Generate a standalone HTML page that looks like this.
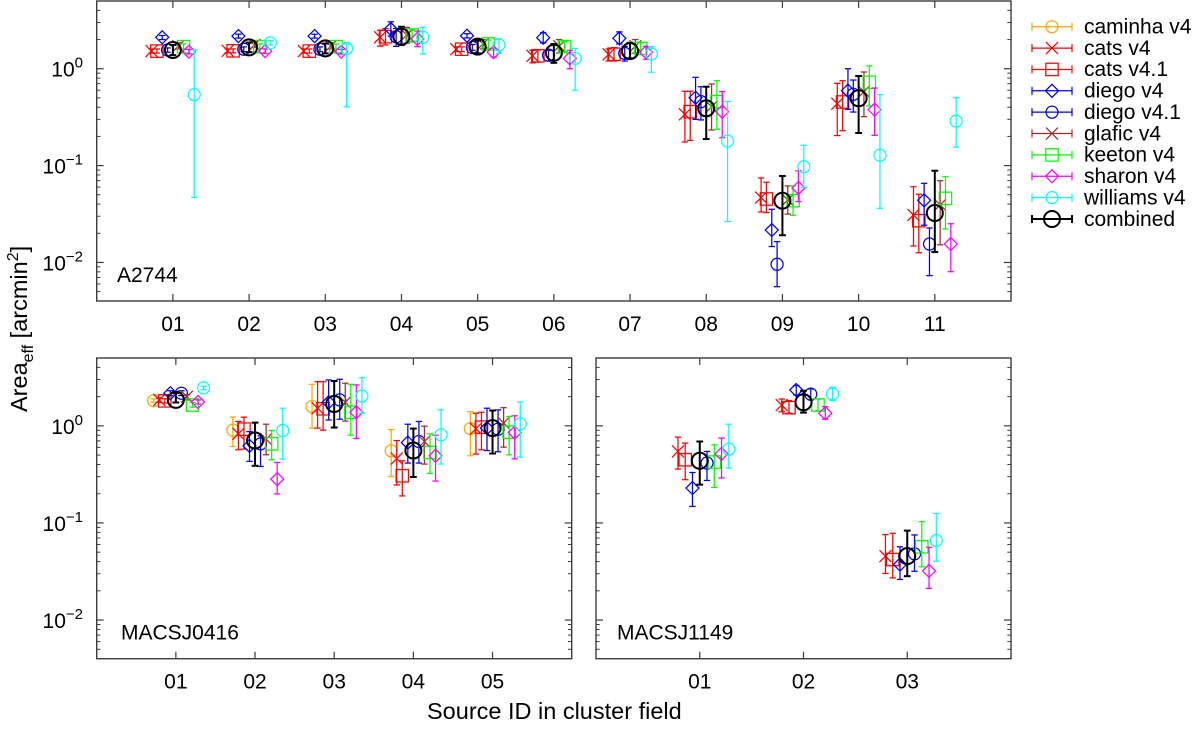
<!DOCTYPE html>
<html lang="en">
<head>
<meta charset="utf-8">
<title>Effective area per source by cluster field</title>
<style>
html,body{margin:0;padding:0;background:#fff;}
svg{display:block;}
text{font-family:"Liberation Sans",sans-serif;fill:#000;}
</style>
</head>
<body>
<svg id="chart" xmlns="http://www.w3.org/2000/svg" width="1200" height="729" viewBox="0 0 1200 729">
  <rect x="0" y="0" width="1200" height="729" fill="#fff"/>
  <g id="panels"></g>
  <text x="117" y="282" font-size="21">A2744</text>
  <text x="121" y="639.5" font-size="21">MACSJ0416</text>
  <text x="617" y="639.5" font-size="21">MACSJ1149</text>
  <text x="427" y="719" font-size="23.5">Source ID in cluster field</text>
  <text transform="translate(27,412) rotate(-90)" font-size="23.5">Area<tspan font-size="16" dy="6">eff</tspan><tspan dy="-6"> [arcmin</tspan><tspan font-size="16" dy="-9">2</tspan><tspan dy="9">]</tspan></text>
  <g id="legend">
    <text x="1084" y="33.5" font-size="21">caminha v4</text>
    <text x="1084" y="54.8" font-size="21">cats v4</text>
    <text x="1084" y="76.2" font-size="21">cats v4.1</text>
    <text x="1084" y="97.6" font-size="21">diego v4</text>
    <text x="1084" y="119" font-size="21">diego v4.1</text>
    <text x="1084" y="140.3" font-size="21">glafic v4</text>
    <text x="1084" y="161.7" font-size="21">keeton v4</text>
    <text x="1084" y="183" font-size="21">sharon v4</text>
    <text x="1084" y="204.4" font-size="21">williams v4</text>
    <text x="1084" y="225.8" font-size="21">combined</text>
  </g>
</svg>
<script>
// ---------- categories ----------
const sourceIdsA2744 = ['01','02','03','04','05','06','07','08','09','10','11'];
const sourceIdsM0416 = ['01','02','03','04','05'];
const sourceIdsM1149 = ['01','02','03'];
const yDecadeTicks = [0,-1,-2];
const yDecadesForMinors = [-3,-2,-1,0];
const yMinorMantissas = [2,3,4,5,6,7,8,9];

// ---------- A2744 values: [value, low, high] per source ----------
const a2744CatsV4 = [[1.52,1.45,1.6],[1.53,1.46,1.6],[1.52,1.45,1.6],[2.11,1.71,2.5],[1.59,1.5,1.68],[1.36,1.15,1.55],[1.41,1.2,1.6],[0.338,0.175,0.585],[0.0467,0.0332,0.0745],[0.435,0.204,0.706],[0.0309,0.0148,0.0605]];
const a2744CatsV41 = [[1.52,1.45,1.6],[1.53,1.46,1.6],[1.52,1.45,1.6],[2.14,1.76,2.59],[1.59,1.5,1.68],[1.36,1.17,1.56],[1.41,1.2,1.65],[0.36,0.182,0.585],[0.0452,0.0327,0.0673],[0.453,0.229,0.752],[0.027,0.0126,0.0506]];
const a2744DiegoV4 = [[2.11,2.0,2.2],[2.17,2.07,2.27],[2.17,2.07,2.27],[2.57,2.17,3.05],[2.19,2.08,2.3],[2.09,1.85,2.35],[2.06,1.8,2.4],[0.502,0.3,0.815],[0.0216,0.0146,0.0354],[0.593,0.381,1.0],[0.0438,0.0242,0.0656]];
const a2744DiegoV41 = [[1.56,1.48,1.64],[1.59,1.5,1.68],[1.59,1.5,1.68],[2.14,1.7,2.6],[1.66,1.55,1.78],[1.38,1.2,1.55],[1.44,1.2,1.7],[0.457,0.296,0.652],[0.00957,0.00562,0.0164],[0.544,0.357,0.764],[0.0155,0.00731,0.0227]];
const a2744GlaficV4 = [[1.71,1.6,1.85],[1.76,1.65,1.9],[1.71,1.6,1.85],[2.23,1.84,2.67],[1.8,1.6,2.0],[1.71,1.45,2.0],[1.71,1.45,2.0],[0.405,0.233,0.695],[0.0442,0.0316,0.0616],[0.579,0.32,0.925],[0.0392,0.0152,0.0698]];
const a2744KeetonV4 = [[1.69,1.6,1.8],[1.69,1.6,1.8],[1.69,1.6,1.8],[2.23,1.88,2.5],[1.8,1.62,1.98],[1.69,1.5,1.9],[1.62,1.4,1.85],[0.457,0.237,0.752],[0.0434,0.0307,0.0616],[0.724,0.412,1.07],[0.0459,0.0222,0.0767]];
const a2744SharonV4 = [[1.5,1.42,1.58],[1.52,1.44,1.6],[1.5,1.42,1.58],[2.03,1.69,2.45],[1.48,1.32,1.62],[1.28,1.0,1.55],[1.48,1.25,1.7],[0.36,0.194,0.58],[0.0587,0.0424,0.0885],[0.378,0.205,0.632],[0.0155,0.00803,0.0251]];
const a2744WilliamsV4 = [[0.54,0.047,1.56],[1.85,1.76,1.95],[1.62,0.405,1.8],[2.11,1.42,2.67],[1.76,1.44,2.03],[1.28,0.6,1.62],[1.42,0.92,1.69],[0.179,0.0264,0.457],[0.0974,0.0597,0.162],[0.128,0.0362,0.54],[0.288,0.155,0.502]];
const a2744Combined = [[1.56,1.38,1.76],[1.66,1.48,1.86],[1.62,1.44,1.82],[2.14,1.76,2.71],[1.69,1.44,1.95],[1.46,1.15,1.8],[1.52,1.28,1.85],[0.39,0.188,0.652],[0.0434,0.0191,0.0781],[0.495,0.217,0.841],[0.0324,0.0128,0.0885]];

// ---------- MACSJ0416 values ----------
const m0416CaminhaV4 = [[1.82,1.75,1.9],[0.903,0.613,1.23],[1.58,0.947,2.68],[0.553,0.301,0.916],[0.938,0.492,1.4]];
const m0416CatsV4 = [[1.85,1.75,1.95],[0.828,0.567,1.11],[1.52,0.947,2.85],[0.461,0.246,0.706],[0.932,0.512,1.35]];
const m0416CatsV41 = [[1.81,1.72,1.9],[0.925,0.576,1.23],[1.5,0.903,2.85],[0.306,0.19,0.437],[0.97,0.567,1.38]];
const m0416DiegoV4 = [[2.17,2.05,2.3],[0.623,0.431,0.873],[1.75,1.15,2.97],[0.673,0.414,1.04],[0.947,0.557,1.52]];
const m0416DiegoV41 = [[2.17,2.05,2.3],[0.653,0.382,0.789],[1.85,1.17,3.02],[0.69,0.414,1.11],[0.925,0.541,1.46]];
const m0416GlaficV4 = [[2.0,1.85,2.1],[0.73,0.504,1.04],[1.75,1.12,2.75],[0.69,0.404,0.993],[1.07,0.604,1.54]];
const m0416KeetonV4 = [[1.64,1.56,1.74],[0.653,0.448,0.895],[1.38,0.802,2.68],[0.532,0.324,0.828],[0.861,0.504,1.25]];
const m0416SharonV4 = [[1.76,1.68,1.85],[0.283,0.199,0.42],[1.38,0.741,2.64],[0.492,0.27,0.802],[0.853,0.458,1.27]];
const m0416WilliamsV4 = [[2.46,2.35,2.56],[0.895,0.455,1.52],[2.03,1.35,3.13],[0.808,0.404,1.46],[1.05,0.477,1.76]];
const m0416Combined = [[1.85,1.74,2.17],[0.706,0.388,1.08],[1.68,0.961,2.9],[0.557,0.297,0.938],[0.947,0.519,1.44]];

// ---------- MACSJ1149 values ----------
const m1149CatsV4 = [[0.545,0.359,0.765],[1.64,1.4,1.89],[0.0455,0.0302,0.0759]];
const m1149CatsV41 = [[0.448,0.279,0.664],[1.54,1.35,1.82],[0.042,0.0272,0.0783]];
const m1149DiegoV4 = [[0.229,0.148,0.331],[2.34,2.08,2.6],[0.0373,0.0262,0.0568]];
const m1149DiegoV41 = [[0.414,0.274,0.545],[2.12,1.85,2.4],[0.0481,0.0318,0.0753]];
const m1149KeetonV4 = [[0.424,0.232,0.638],[1.64,1.43,1.89],[0.0568,0.0354,0.103]];
const m1149SharonV4 = [[0.515,0.29,0.748],[1.35,1.17,1.58],[0.0321,0.0212,0.0562]];
const m1149WilliamsV4 = [[0.576,0.367,1.04],[2.13,1.82,2.5],[0.0659,0.0404,0.125]];
const m1149Combined = [[0.437,0.248,0.69],[1.75,1.37,2.3],[0.0455,0.0283,0.0834]];

// ---------- styles (separate from data) ----------
const seriesStyles = {
  caminha:{slug:'caminha-v4',color:'#ffa500',marker:'circle'},
  cats:{slug:'cats-v4',color:'#ff0000',marker:'cross'},
  cats41:{slug:'cats-v4-1',color:'#ff0000',marker:'square'},
  diego:{slug:'diego-v4',color:'#0000ff',marker:'diamond'},
  diego41:{slug:'diego-v4-1',color:'#0000ff',marker:'circle'},
  glafic:{slug:'glafic-v4',color:'#a52a2a',marker:'cross'},
  keeton:{slug:'keeton-v4',color:'#00ff00',marker:'square'},
  sharon:{slug:'sharon-v4',color:'#ff00ff',marker:'diamond'},
  williams:{slug:'williams-v4',color:'#00ffff',marker:'circle'},
  combined:{slug:'combined',color:'#000000',marker:'bigcircle'}
};
const legendOrder = ['caminha','cats','cats41','diego','diego41','glafic','keeton','sharon','williams','combined'];

const Y_MIN = 0.004;
const Y_MAX = 5;
const OFFSET_STEP = 0.07;
const FRAME_COLOR = '#3c3c3c';
const SVGNS = 'http://www.w3.org/2000/svg';

const panels = [
  {slug:'a2744',left:96.7,right:1011,top:1,bottom:301,xMax:12,sources:sourceIdsA2744,yLabels:true,
   slots:[['cats',a2744CatsV4],['cats41',a2744CatsV41],['diego',a2744DiegoV4],['diego41',a2744DiegoV41],['combined',a2744Combined],['glafic',a2744GlaficV4],['keeton',a2744KeetonV4],['sharon',a2744SharonV4],['williams',a2744WilliamsV4]]},
  {slug:'macsj0416',left:96.7,right:571.7,top:358,bottom:658.7,xMax:6,sources:sourceIdsM0416,yLabels:true,
   slots:[['caminha',m0416CaminhaV4],['cats',m0416CatsV4],['cats41',m0416CatsV41],['diego',m0416DiegoV4],['combined',m0416Combined],['diego41',m0416DiegoV41],['glafic',m0416GlaficV4],['keeton',m0416KeetonV4],['sharon',m0416SharonV4],['williams',m0416WilliamsV4]]},
  {slug:'macsj1149',left:596,right:1011,top:358,bottom:658.7,xMax:4,sources:sourceIdsM1149,yLabels:false,
   slots:[['cats',m1149CatsV4],['cats41',m1149CatsV41],['diego',m1149DiegoV4],['combined',m1149Combined],['diego41',m1149DiegoV41],['keeton',m1149KeetonV4],['sharon',m1149SharonV4],['williams',m1149WilliamsV4]]}
];

function mk(parent, tag, attrs) {
  const node = document.createElementNS(SVGNS, tag);
  for (const k in attrs) node.setAttribute(k, attrs[k]);
  parent.appendChild(node);
  return node;
}

function xScale(p, x) { return p.left + (x / p.xMax) * (p.right - p.left); }
function yScale(p, v) {
  const t = (Math.log10(Y_MAX) - Math.log10(v)) / (Math.log10(Y_MAX) - Math.log10(Y_MIN));
  return p.top + t * (p.bottom - p.top);
}

function drawSegment(parent, x1, y1, x2, y2, color, width) {
  return mk(parent, 'line', {x1:x1, y1:y1, x2:x2, y2:y2, stroke:color, 'stroke-width':width});
}

function drawMarker(parent, kind, cx, cy, color, width) {
  let m;
  if (kind === 'circle' || kind === 'bigcircle') {
    m = mk(parent, 'circle', {cx:cx, cy:cy, r: kind === 'circle' ? 6 : 8, fill:'none', stroke:color, 'stroke-width':width});
  } else if (kind === 'square') {
    m = mk(parent, 'rect', {x:cx-6.2, y:cy-6.2, width:12.4, height:12.4, fill:'none', stroke:color, 'stroke-width':width});
  } else if (kind === 'diamond') {
    m = mk(parent, 'path', {d:`M${cx} ${cy-6.5}L${cx+6.5} ${cy}L${cx} ${cy+6.5}L${cx-6.5} ${cy}Z`, fill:'none', stroke:color, 'stroke-width':width});
  } else {
    m = mk(parent, 'path', {d:`M${cx-6} ${cy-6}L${cx+6} ${cy+6}M${cx-6} ${cy+6}L${cx+6} ${cy-6}`, fill:'none', stroke:color, 'stroke-width':width});
  }
  return m;
}

function drawPanelFrame(p, g) {
  const frame = mk(g, 'rect', {x:p.left, y:p.top, width:p.right-p.left, height:p.bottom-p.top, fill:'none', stroke:FRAME_COLOR, 'stroke-width':1.4});
  
  

  p.sources.forEach(function (label, i) {
    const x = xScale(p, i + 1);
    const tickBottom = drawSegment(g, x, p.bottom, x, p.bottom - 7, FRAME_COLOR, 1.2);
    
    
    const tickTop = drawSegment(g, x, p.top, x, p.top + 7, FRAME_COLOR, 1.2);
    
    
    const tickLabel = mk(g, 'text', {x:x, y:p.bottom + 30, 'font-size':21, 'text-anchor':'middle'});
    tickLabel.textContent = label;
    
    
  });

  yDecadeTicks.forEach(function (e) {
    const y = yScale(p, Math.pow(10, e));
    const tickLeft = drawSegment(g, p.left, y, p.left + 7, y, FRAME_COLOR, 1.2);
    
    
    const tickRight = drawSegment(g, p.right, y, p.right - 7, y, FRAME_COLOR, 1.2);
    
    
    if (p.yLabels) {
      const label = mk(g, 'text', {x:83, y:y + 8, 'font-size':21, 'text-anchor':'end'});
      
      
      const base = mk(label, 'tspan', {});
      base.textContent = '10';
      const sup = mk(label, 'tspan', {'font-size':15, dy:-9});
      sup.textContent = String(e).replace('-', '\u2212');
    }
  });

  yDecadesForMinors.forEach(function (e) {
    yMinorMantissas.forEach(function (m) {
      const v = m * Math.pow(10, e);
      if (v <= Y_MIN || v >= Y_MAX) return;
      const y = yScale(p, v);
      const minorLeft = drawSegment(g, p.left, y, p.left + 3.7, y, FRAME_COLOR, 1);
      
      
      const minorRight = drawSegment(g, p.right, y, p.right - 3.7, y, FRAME_COLOR, 1);
      
      
    });
  });
}

function drawSeries(p, g, key, slot, values) {
  const style = seriesStyles[key];
  const width = key === 'combined' ? 2 : 1.25;
  const capHalf = key === 'combined' ? 3.4 : 3.2;
  const series = mk(g, 'g', {});
  
  
  values.forEach(function (row, i) {
    const x = xScale(p, i + 1 + slot * OFFSET_STEP);
    const yC = yScale(p, row[0]);
    const yLo = yScale(p, row[1]);
    const yHi = yScale(p, row[2]);
    const bar = drawSegment(series, x, yLo, x, yHi, style.color, width);
    
    
    const capLo = drawSegment(series, x - capHalf, yLo, x + capHalf, yLo, style.color, width);
    
    
    const capHi = drawSegment(series, x - capHalf, yHi, x + capHalf, yHi, style.color, width);
    
    
    const point = drawMarker(series, style.marker, x, yC, style.color, width);
    
    
  });
}

const panelsRoot = document.getElementById('panels');
panels.forEach(function (p) {
  const g = mk(panelsRoot, 'g', {});
  
  
  drawPanelFrame(p, g);
  const centre = p.slots.findIndex(function (s) { return s[0] === 'combined'; });
  p.slots.forEach(function (s, i) {
    if (s[0] !== 'combined') drawSeries(p, g, s[0], i - centre, s[1]);
  });
  drawSeries(p, g, 'combined', 0, p.slots[centre][1]);
});

const legendRoot = document.getElementById('legend');
legendOrder.forEach(function (key, i) {
  const style = seriesStyles[key];
  const y = 26.7 + i * 21.37;
  const width = key === 'combined' ? 2 : 1.25;
  const entry = mk(legendRoot, 'g', {});
  
  
  drawSegment(entry, 1032, y, 1072, y, style.color, width);
  drawSegment(entry, 1032, y - 4, 1032, y + 4, style.color, width);
  drawSegment(entry, 1072, y - 4, 1072, y + 4, style.color, width);
  drawMarker(entry, style.marker, 1052, y, style.color, width);
});
</script>
</body>
</html>
